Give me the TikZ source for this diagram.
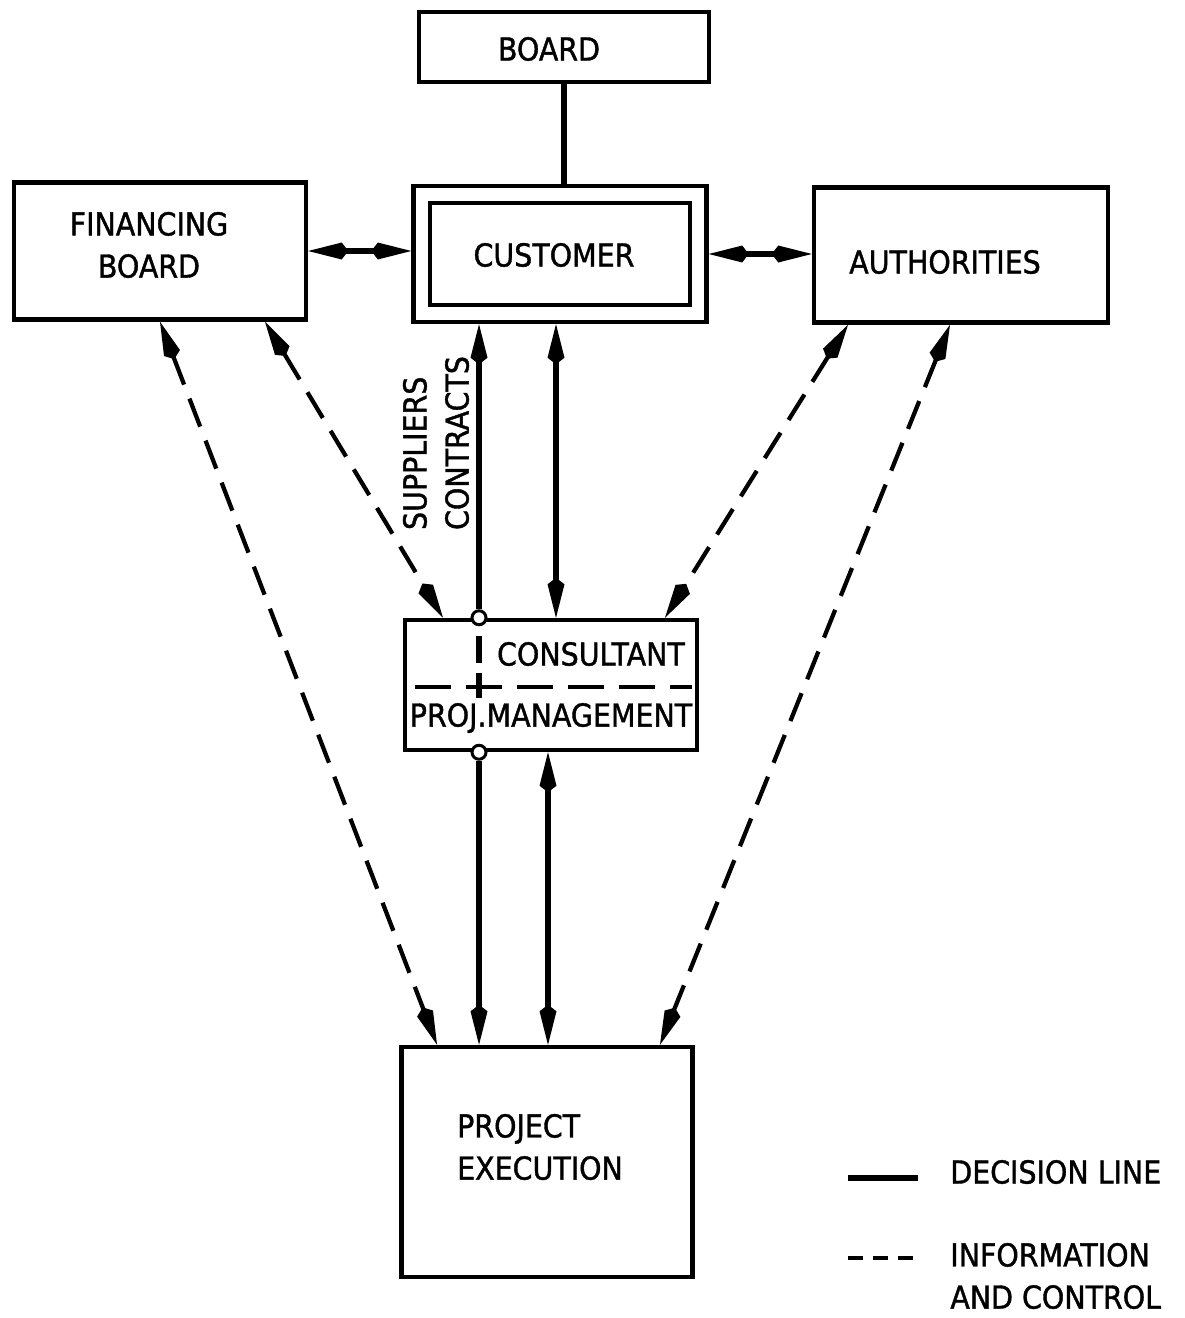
\documentclass[tikz,border=0pt]{standalone}
\usepackage{fontspec}
\setmainfont{DejaVu Sans}[FakeStretch=0.9, FakeBold=1.2]
\usetikzlibrary{arrows.meta, positioning, calc}

\begin{document}
\begin{tikzpicture}[x=0.02cm, y=-0.02cm,
      >={Kite[length=0.8cm, width=0.34cm, inset=0.13cm]},
      box/.style={rectangle, draw, line width=0.09cm, inner sep=0pt, font=\fontsize{18}{24}\selectfont, align=center},
      txt/.style={inner sep=0pt, font=\fontsize{18}{24}\selectfont},
      decision/.style={line width=0.11cm},
      info/.style={line width=0.085cm, dash pattern=on 0.6cm off 0.3cm},
      knob/.style={circle, draw, fill=white, line width=0.06cm, minimum size=0.28cm, inner sep=0pt}]

      \useasboundingbox (0,0) rectangle (1185,1318);

      % Boxes
      \node[box, minimum width=5.8cm, minimum height=1.4cm] (board) at (564,47) {};
      \node[txt] (boardtxt) at (549,49) {BOARD};
      \node[box, minimum width=5.86cm, minimum height=2.72cm] (cust) at (560,254) {};
      \node[box, minimum width=5.2cm, minimum height=2.04cm] (custin) at (cust) {};
      \node[txt] (custtxt) at (554,255) {CUSTOMER};
      \node[box, minimum width=5.84cm, minimum height=2.74cm] (fin) at (160,251) {};
      \node[txt, align=center] (fintxt) at (149,245) {FINANCING\\BOARD};
      \node[box, minimum width=5.88cm, minimum height=2.7cm] (auth) at (961,255) {};
      \node[txt] (authtxt) at (945,262) {AUTHORITIES};
      \node[box, minimum width=5.84cm, minimum height=2.6cm] (cons) at (551,685) {};
      \node[txt] (consname) at (591,654) {CONSULTANT};
      \node[txt] (projman) at (551,718) {PROJ.MANAGEMENT};
      \node[box, minimum width=5.82cm, minimum height=4.6cm] (proj) at (547,1162) {};
      \node[txt, align=left] (projtxt) at (540,1147) {PROJECT\\EXECUTION};

      \node[txt, rotate=90, align=left] (suppl) at (436,443) {SUPPLIERS\\CONTRACTS};

      % Decision lines
      \draw[decision] (board.south) -- (board.south |- cust.north);
      \draw[decision, <->] (fin.east) -- (fin.east -| cust.west);
      \draw[decision, <->] (cust.east) -- (cust.east -| auth.west);

      \node[knob] (knobtop) at ([xshift=-1.44cm]cons.north) {};
      \node[knob] (knobbot) at ([xshift=-1.44cm]cons.south) {};
      \draw[decision, ->] (knobtop.north) -- (knobtop |- cust.south);
      \draw[decision, <->] ([xshift=-0.08cm]cust.south) -- ([xshift=-0.08cm]cust.south |- cons.north);
      \draw[decision, ->] (knobbot.south) -- (knobbot |- proj.north);
      \draw[decision, <->] ([xshift=-0.06cm]cons.south) -- ([xshift=-0.06cm]cons.south |- proj.north);

      % inside the consultant box
      \draw[line width=0.08cm, dash pattern=on 0.72cm off 0.3cm] ([xshift=0.24cm, yshift=-0.04cm]cons.west) -- ([xshift=-0.14cm, yshift=-0.04cm]cons.east);
      \draw[decision] ([yshift=-0.36cm]knobtop.center) -- ++(0,27);
      \draw[decision] ([yshift=-1.1cm]knobtop.center) -- ++(0,25);

      % Information and control
      \draw[info, <->] (fin.south) -- ([xshift=-2.2cm]proj.north);
      \draw[info, <->] ([xshift=2.1cm]fin.south) -- ([xshift=-2.16cm]cons.north);
      \draw[info, <->] ([xshift=-2.26cm]auth.south) -- ([xshift=2.28cm]cons.north);
      \draw[info, <->] ([xshift=-0.22cm]auth.south) -- ([xshift=2.26cm]proj.north);

      % Legend
      \coordinate (decA) at (848,1178);
      \coordinate (infA) at (848,1258);
      \node[txt, anchor=west] (declab) at (950,1172) {DECISION LINE};
      \node[txt, anchor=west, align=left] (inflab) at (950,1276) {INFORMATION\\AND CONTROL};
      \draw[decision] (decA) -- ++(70,0);
      \draw[line width=0.085cm, dash pattern=on 0.3cm off 0.2cm] (infA) -- ++(70,0);
    \end{tikzpicture}
\end{document}
